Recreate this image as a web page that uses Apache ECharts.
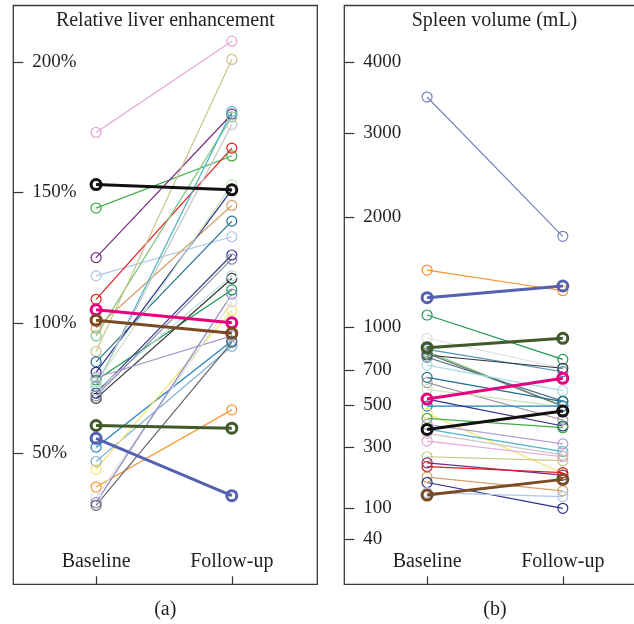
<!DOCTYPE html>
<html>
<head>
<meta charset="utf-8">
<script src="https://cdn.jsdelivr.net/npm/echarts@6/dist/echarts.min.js"></script>
<style>html,body{margin:0;padding:0;background:#fff}#c{width:634px;height:624px}</style>
</head>
<body>
<div id="c"></div>
<script>
const categories = ['Baseline', 'Follow-up'];
const liverTicks = [50, 100, 150, 200];
const spleenTicks = [40, 100, 300, 500, 700, 1000, 2000, 3000, 4000];

// Relative liver enhancement (%)
const liverBaseline = [173, 144, 125, 118, 109, 98, 95, 89, 85, 81, 78, 75.5, 76, 73, 71, 74, 79, 52.3, 46.8, 43.8, 37, 33, 31, 30, 72, 77, 153, 105, 101, 60.6, 55.7];
const liverFollowup = [208, 164, 180, 133, 167, 145, 179, 201, 139, 151, 112.6, 181, 176, 126, 117, 118, 95, 93, 91, 104.7, 66.6, 108, 111, 92.5, 124.4, 153, 151, 100, 96, 59.6, 33.7];
const liverColors = ['#e3a7d6','#3fae49','#762a83','#aec7e8','#e41a1c','#d4a06a','#7fc97f','#c9c48a','#1f6f8b','#2c2f8c','#1a9850','#4bb6c8','#c8c8c8','#3b3b98','#333333','#b7dede','#a994cf','#2080bd','#7fb3d5','#f4e66a','#f7972f','#dcdce6','#8f8cc4','#666666','#8a8aa0','#c7e3c0','#111111','#e6007e','#7a4a22','#405a2c','#5560b0'];
const liverThick = [26, 27, 28, 29, 30];

// Spleen volume (mL)
const spleenBaseline = [3493, 1478, 1094, 918, 840, 824, 801, 812, 786, 734, 657, 625, 586, 493, 531, 455, 430, 401, 378, 359, 325, 261, 238, 224, 188, 171, 141, 1235, 851, 531, 377, 134];
const spleenFollowup = [1804, 1294, 772, 714, 692, 493, 714, 493, 520, 578, 517, 422, 489, 493, 393, 201, 385, 313, 281, 268, 261, 246, 195, 203, 146, 100, 130, 1335, 918, 651, 467, 181];
const spleenColors = ['#7b7fc0','#f7932f','#1a9850','#dddddd','#4a8fb8','#7fc97f','#333333','#777777','#4c6f8c','#a8dbe0','#1f6f8b','#999999','#c7e3c0','#2080bd','#2c2f8c','#f4e66a','#3fae49','#b79fd6','#4bb6c8','#c8c8c8','#e3a7d6','#c9c48a','#762a83','#e41a1c','#d4a06a','#2c2f8c','#aec7e8','#5560b0','#405a2c','#e6007e','#111111','#7a4a22'];
const spleenThick = [27, 28, 29, 30, 31];

const FONT = 'Liberation Serif';
const TXT = '#231f20';

function makeSeries(base, fol, colors, thick, axisIdx, tf) {
  const out = [];
  const order = [];
  for (let i = 0; i < base.length; i++) if (!thick.includes(i)) order.push(i);
  thick.forEach(i => order.push(i));
  order.forEach(i => {
    const w = thick.includes(i) ? 3 : 1.2;
    out.push({
      type: 'line',
      xAxisIndex: axisIdx, yAxisIndex: axisIdx,
      data: [[0, tf(base[i])], [1, tf(fol[i])]],
      symbol: 'circle', symbolSize: 10,
      lineStyle: { color: colors[i], width: w },
      itemStyle: { color: 'rgba(255,255,255,0)', borderColor: colors[i], borderWidth: w },
      emphasis: { disabled: true },
      animation: false,
      z: thick.includes(i) ? 3 : 2
    });
  });
  return out;
}

function xAxis(gi) {
  return {
    type: 'value', gridIndex: gi, min: -0.61, max: 1.63, position: 'bottom',
    axisLine: { show: false, onZero: false }, splitLine: { show: false },
    axisTick: { show: true, inside: true, length: 8, customValues: [0, 1], lineStyle: { color: '#333', width: 1.2 } },
    axisLabel: { show: true, inside: true, margin: 13, customValues: [0, 1],
      formatter: v => categories[Math.round(v)], fontFamily: FONT, fontSize: 20, color: TXT }
  };
}

const sq = v => Math.sqrt(v);

const option = {
  backgroundColor: '#fff',
  animation: false,
  title: [
    { text: 'Relative liver enhancement', left: 165.3, top: 11, textAlign: 'center', padding: 0,
      textStyle: { fontFamily: FONT, fontSize: 20, fontWeight: 'normal', color: TXT } },
    { text: 'Spleen volume (mL)', left: 494.5, top: 11, textAlign: 'center', padding: 0,
      textStyle: { fontFamily: FONT, fontSize: 20, fontWeight: 'normal', color: TXT } },
    { text: '(a)', left: 165.3, top: 600, textAlign: 'center', padding: 0,
      textStyle: { fontFamily: FONT, fontSize: 20, fontWeight: 'normal', color: TXT } },
    { text: '(b)', left: 495, top: 600, textAlign: 'center', padding: 0,
      textStyle: { fontFamily: FONT, fontSize: 20, fontWeight: 'normal', color: TXT } }
  ],
  grid: [
    { left: 13.3, top: 5.5, width: 304, height: 578.8, show: true, borderColor: '#3a3a3a', borderWidth: 1.3, backgroundColor: 'transparent', outerBoundsMode: 'none', containLabel: false },
    { left: 344.3, top: 5.5, width: 304, height: 578.8, show: true, borderColor: '#3a3a3a', borderWidth: 1.3, backgroundColor: 'transparent', outerBoundsMode: 'none', containLabel: false }
  ],
  xAxis: [xAxis(0), xAxis(1)],
  yAxis: [
    { type: 'value', gridIndex: 0, min: -0.3, max: 221.7, position: 'left',
      axisLine: { show: false, onZero: false }, splitLine: { show: false },
      axisTick: { show: true, inside: true, length: 10, customValues: liverTicks, lineStyle: { color: '#333', width: 1.2 } },
      axisLabel: { show: true, inside: true, margin: 19, customValues: liverTicks,
        formatter: v => Math.round(v) + '%', fontFamily: FONT, fontSize: 19, color: TXT } },
    { type: 'value', gridIndex: 1, min: 0.926, max: 70.03, position: 'left',
      axisLine: { show: false, onZero: false }, splitLine: { show: false },
      axisTick: { show: true, inside: true, length: 10, customValues: spleenTicks.map(sq), lineStyle: { color: '#333', width: 1.2 } },
      axisLabel: { show: true, inside: true, margin: 19, customValues: spleenTicks.map(sq),
        formatter: v => String(Math.round(v * v)), fontFamily: FONT, fontSize: 19, color: TXT } }
  ],
  series: [].concat(
    makeSeries(liverBaseline, liverFollowup, liverColors, liverThick, 0, v => v),
    makeSeries(spleenBaseline, spleenFollowup, spleenColors, spleenThick, 1, sq)
  )
};

const chart = echarts.init(document.getElementById('c'), null, { renderer: 'canvas' });
chart.setOption(option);
</script>
</body>
</html>
